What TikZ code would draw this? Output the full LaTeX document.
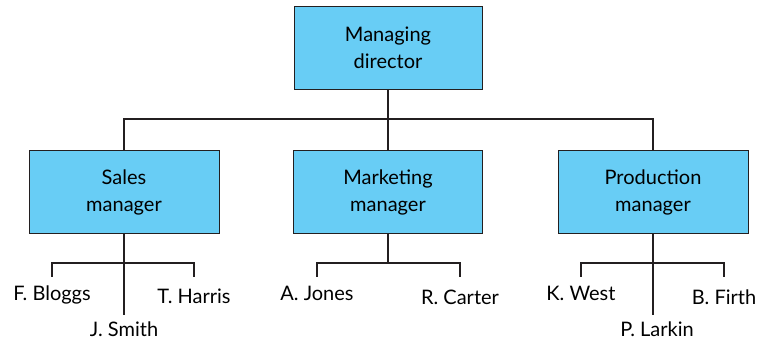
\documentclass[tikz,border=0pt]{standalone}
\usepackage{fontspec}
\setmainfont{Lato}
\usepackage{tikz}

\definecolor{boxblue}{RGB}{104,205,245}
\definecolor{inkgray}{RGB}{35,31,32}

\tikzset{
  post/.style={draw=inkgray, line width=0.8pt, fill=boxblue, minimum width=190pt,
    minimum height=83pt, align=center, font=\fontsize{20}{27}\selectfont},
  person/.style={inner sep=0pt, outer ysep=7pt, anchor=base, font=\fontsize{20}{24}\selectfont},
  link/.style={draw=inkgray, line width=2pt}
}

\begin{document}
\begin{tikzpicture}[x=1pt,y=-1pt]
 \useasboundingbox (0,0) rectangle (763,344);
 % posts
 \node[post, minimum width=188pt] (md) at (388,48) {Managing\\director};
 \node[post] (sales) at (124,192) {Sales\\manager};
 \node[post, minimum width=189pt] (mkt) at (388,192) {Marketing\\manager};
 \node[post] (prod) at (653,192) {Production\\manager};
 % staff
 \node[person] (bloggs) at (52,301) {F. Bloggs};
 \node[person] (smith) at (124,337) {J. Smith};
 \node[person] (harris) at (194,304) {T. Harris};
 \node[person] (jones) at (317,301) {A. Jones};
 \node[person] (carter) at (460,305) {R. Carter};
 \node[person] (west) at (581,301) {K. West};
 \node[person] (larkin) at (657,337) {P. Larkin};
 \node[person] (firth) at (724,305) {B. Firth};
 % top level
 \draw[link] (md.south) -- (mkt.north);
 \draw[link] (sales.north) -- ++(0,-31) -| (prod.north);
 % sales team
 \draw[link] (sales.south) -- (sales.south |- smith.north);
 \draw[link] (bloggs.north |- 0,277) |- (sales.south |- 0,263) -| (harris.north |- 0,277);
 % marketing team
 \draw[link] (mkt.south) -- (mkt.south |- 0,263);
 \draw[link] (jones.north |- 0,277) |- (carter.north |- 0,263) -- (carter.north |- 0,277);
 % production team
 \draw[link] (prod.south) -- (prod.south |- larkin.north);
 \draw[link] (west.north |- 0,277) |- (prod.south |- 0,263) -| (firth.north |- 0,277);
\end{tikzpicture}
\end{document}
